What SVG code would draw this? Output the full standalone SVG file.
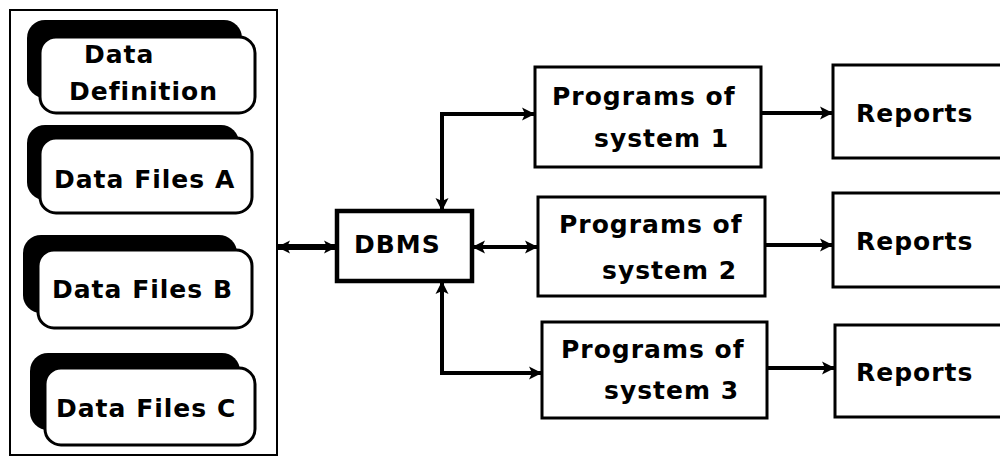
<svg xmlns="http://www.w3.org/2000/svg" width="1000" height="465" viewBox="0 0 1000 465">
<style>
  .lbl { font-family: "DejaVu Sans", "Liberation Sans", sans-serif; font-weight: bold; font-size: 25px; letter-spacing: 1px; fill: #000; }
  .box { fill: #fff; stroke: #000; stroke-width: 3; }
  .thick { fill: #fff; stroke: #000; stroke-width: 4.5; }
  .panel { fill: #fff; stroke: #000; stroke-width: 2; }
  .shadow { fill: #000; }
  .rbox { fill: #fff; stroke: #000; stroke-width: 3; }
  .conn { fill: none; stroke: #000; stroke-width: 4; }
  .conn5 { fill: none; stroke: #000; stroke-width: 6; }
</style>
<defs>
  <marker id="ah" markerUnits="userSpaceOnUse" markerWidth="14" markerHeight="16" refX="12" refY="8" orient="auto-start-reverse">
    <path d="M0,1.5 L13,8 L0,14.5 L3,8 z" fill="#000"/>
  </marker>
</defs>
<rect width="1000" height="465" fill="#fff"/>

<g id="panel">
  <rect class="panel" x="10" y="10" width="267" height="445"/>
</g>

<g id="data-definition">
  <rect class="shadow" x="27" y="20" width="215" height="78" rx="18"/>
  <rect class="rbox" x="40" y="37" width="215" height="76" rx="16"/>
  <text class="lbl" x="84" y="63">Data</text>
  <text class="lbl" x="69" y="100">Definition</text>
</g>

<g id="data-files-a">
  <rect class="shadow" x="27" y="125" width="212" height="75" rx="18"/>
  <rect class="rbox" x="40" y="138" width="212" height="75" rx="16"/>
  <text class="lbl" x="54" y="188">Data Files A</text>
</g>

<g id="data-files-b">
  <rect class="shadow" x="23" y="235" width="214" height="78" rx="18"/>
  <rect class="rbox" x="38" y="250" width="214" height="78" rx="16"/>
  <text class="lbl" x="52" y="298">Data Files B</text>
</g>

<g id="data-files-c">
  <rect class="shadow" x="30" y="353" width="210" height="77" rx="18"/>
  <rect class="rbox" x="45" y="368" width="210" height="77" rx="16"/>
  <text class="lbl" x="56" y="417">Data Files C</text>
</g>

<g id="dbms">
  <rect class="thick" x="337" y="211" width="135" height="70"/>
  <text class="lbl" x="354" y="253" letter-spacing="0">DBMS</text>
</g>

<g id="programs-1">
  <rect class="box" x="535" y="67" width="226" height="100"/>
  <text class="lbl" x="552" y="105">Programs of</text>
  <text class="lbl" x="594" y="147">system 1</text>
</g>

<g id="programs-2">
  <rect class="box" x="538" y="197" width="227" height="99"/>
  <text class="lbl" x="559" y="233">Programs of</text>
  <text class="lbl" x="602" y="279">system 2</text>
</g>

<g id="programs-3">
  <rect class="box" x="542" y="322" width="225" height="96"/>
  <text class="lbl" x="561" y="358">Programs of</text>
  <text class="lbl" x="604" y="399">system 3</text>
</g>

<g id="reports-1">
  <rect class="box" x="833" y="65" width="180" height="93"/>
  <text class="lbl" x="856" y="122">Reports</text>
</g>

<g id="reports-2">
  <rect class="box" x="833" y="193" width="180" height="94"/>
  <text class="lbl" x="856" y="250">Reports</text>
</g>

<g id="reports-3">
  <rect class="box" x="835" y="325" width="180" height="92"/>
  <text class="lbl" x="856" y="381">Reports</text>
</g>

<g id="connectors">
  <path class="conn5" d="M278,247 H336" marker-start="url(#ah)" marker-end="url(#ah)"/>
  <path class="conn" d="M442,210 V114 H534" marker-start="url(#ah)" marker-end="url(#ah)"/>
  <path class="conn" d="M473,247 H537" marker-start="url(#ah)" marker-end="url(#ah)"/>
  <path class="conn" d="M442,282 V373 H541" marker-start="url(#ah)" marker-end="url(#ah)"/>
  <path class="conn" d="M762,113 H832" marker-end="url(#ah)"/>
  <path class="conn" d="M766,245 H832" marker-end="url(#ah)"/>
  <path class="conn" d="M768,368 H834" marker-end="url(#ah)"/>
</g>
</svg>
